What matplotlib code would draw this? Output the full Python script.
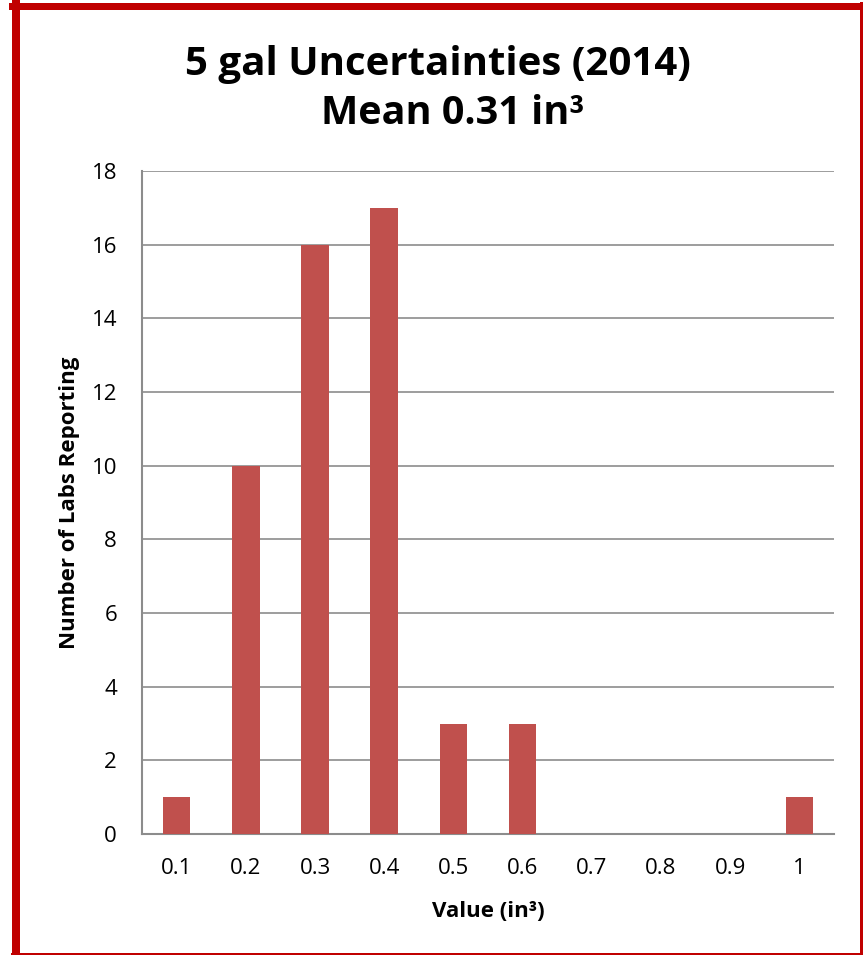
import matplotlib.pyplot as plt
from matplotlib.lines import Line2D

categories = ['0.1', '0.2', '0.3', '0.4', '0.5', '0.6', '0.7', '0.8', '0.9', '1']
counts = [1, 10, 16, 17, 3, 3, 0, 0, 0, 1]

plt.rcParams['font.family'] = ['Open Sans', 'DejaVu Sans']

fig = plt.figure(figsize=(8.63, 9.55), dpi=100)
W, H = 863, 955
ax = fig.add_axes([142 / W, 1 - 834 / H, (834 - 142) / W, (834 - 171) / H])

x = range(len(categories))
ax.bar(x, counts, width=0.4, color='#C0504D', zorder=3)
ax.set_xlim(-0.5, len(categories) - 0.5)
ax.set_ylim(0, 18)
ax.set_yticks(range(0, 19, 2))
ax.set_xticks(list(x))
ax.set_xticklabels(categories)
ax.yaxis.grid(True, color='#8c8c8c', linewidth=1.2, zorder=0)
ax.tick_params(length=0, labelsize=16, pad=18)
ax.tick_params(axis='x', pad=17)
for s in ['top', 'right']:
    ax.spines[s].set_visible(False)
for s in ['left', 'bottom']:
    ax.spines[s].set_color('#8c8c8c')
    ax.spines[s].set_linewidth(1.5)

ax.set_xlabel('Value (in³)', fontsize=16, fontweight='bold', labelpad=16)
ax.set_ylabel('Number of Labs Reporting', fontsize=16, fontweight='bold', labelpad=8)

fig.text(438 / W, 1 - 65 / H, '5 gal Uncertainties (2014)', fontsize=29,
         fontweight='bold', ha='center', va='center')
fig.text(453 / W, 1 - 113 / H, 'Mean 0.31 in³', fontsize=28.5,
         fontweight='bold', ha='center', va='center')

# red frame around the chart
red = '#C00000'
fig.add_artist(Line2D([16 / W, 16 / W], [0, 1 - 3 / H], color=red, linewidth=8 * 0.72))
fig.add_artist(Line2D([12 / W, 862 / W], [1 - 6.5 / H, 1 - 6.5 / H], color=red, linewidth=7 * 0.72))
fig.add_artist(Line2D([861 / W, 861 / W], [0, 1 - 3 / H], color=red, linewidth=3 * 0.72))
fig.add_artist(Line2D([12 / W, 862 / W], [1.5 / H, 1.5 / H], color=red, linewidth=3 * 0.72))

fig.savefig('out.png', dpi=100)
